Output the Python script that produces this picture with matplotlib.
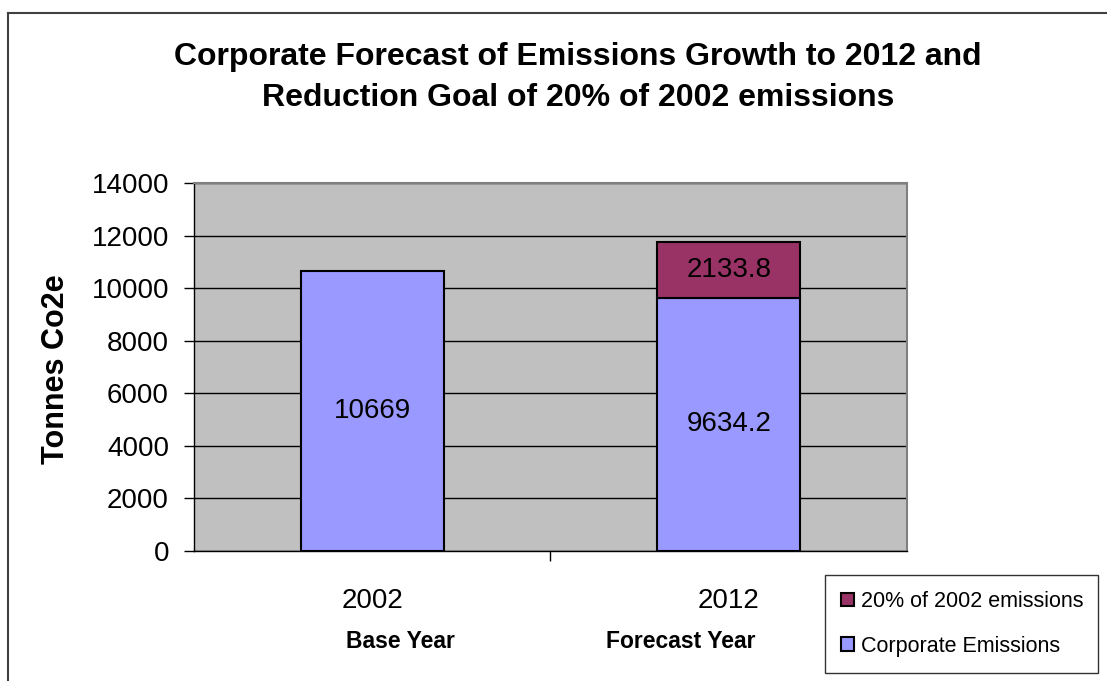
import numpy as np
import matplotlib
matplotlib.use('agg')
import matplotlib.pyplot as plt
from matplotlib.lines import Line2D

plt.rcParams['font.family'] = ['Liberation Sans', 'DejaVu Sans']

# data
years = ['2002', '2012']
year_notes = ['Base Year', 'Forecast Year']
corporate = [10669, 9634.2]
reduction = [0, 2133.8]
series_names = ['Corporate Emissions', '20% of 2002 emissions']
yticks = list(range(0, 14001, 2000))

c_corp = '#9999FF'
c_red = '#993366'

fig = plt.figure(figsize=(11.07, 6.81), dpi=100)
ax = fig.add_axes([0.1752, 0.1909, 0.6441, 0.5404])
ax.set_facecolor('#C0C0C0')

x = np.arange(len(years))
b1 = ax.bar(x, corporate, 0.4, color=c_corp, edgecolor='black', linewidth=1.5, zorder=3,
            label=series_names[0])
b2 = ax.bar(x[1:], reduction[1:], 0.4, bottom=corporate[1:], color=c_red, edgecolor='black',
            linewidth=1.5, zorder=3, label=series_names[1])

# value labels in the middle of each segment
for xi, v in zip(x, corporate):
    ax.text(xi, v / 2, '%g' % v, ha='center', va='center', fontsize=20, zorder=4)
for xi, v, base in zip(x[1:], reduction[1:], corporate[1:]):
    ax.text(xi, base + v / 2, '%g' % v, ha='center', va='center', fontsize=20, zorder=4)

ax.set_xlim(-0.5, 1.5)
ax.set_ylim(0, 14000)
ax.set_yticks(yticks)
ax.yaxis.grid(True, color='black', linewidth=1)
ax.set_axisbelow(True)
ax.tick_params(axis='y', labelsize=20, length=7, width=1, pad=11, direction='out')

ax.set_xticks(x)
ax.set_xticklabels(years)
ax.set_xticks([0.5], minor=True)
ax.tick_params(axis='x', which='major', length=0, labelsize=20, pad=27)
ax.tick_params(axis='x', which='minor', length=7.5, width=1, direction='out')

for s in ['top', 'right']:
    ax.spines[s].set_color('#808080')
    ax.spines[s].set_linewidth(1.5)
for s in ['left', 'bottom']:
    ax.spines[s].set_color('black')
    ax.spines[s].set_linewidth(1)

# bold notes under the years
note_x = [0.078, 0.866]
for nx, note in zip(note_x, year_notes):
    ax.text(nx, -(641 - 551) / 368, note, transform=ax.get_xaxis_transform(),
            ha='center', va='center', fontsize=16.5, fontweight='bold')

fig.text(0.522, 1 - 77.5 / 681,
         'Corporate Forecast of Emissions Growth to 2012 and\nReduction Goal of 20% of 2002 emissions',
         ha='center', va='center', fontsize=23, fontweight='bold', linespacing=1.45)
fig.text(56 / 1107, 1 - 369 / 681, 'Tonnes Co2e', rotation=90, ha='center', va='center',
         fontsize=22, fontweight='bold')

# legend (reverse order like the stacked chart)
leg = fig.legend([b2, b1], [series_names[1], series_names[0]],
                 loc='upper left', bbox_to_anchor=(825 / 1107, 1 - 575 / 681 - 0.01, 273 / 1107, 0.01),
                 mode='expand', fontsize=15.5, frameon=True, fancybox=False,
                 edgecolor='black', handlelength=0.6, handleheight=0.6, handletextpad=0.3,
                 labelspacing=1.1, borderpad=0.75, borderaxespad=0)
leg.get_frame().set_linewidth(1)

# outer chart border (cropped at right and bottom)
fig.add_artist(Line2D([8 / 1107, 8 / 1107], [0, 1 - 13 / 681], transform=fig.transFigure,
                      color='#404040', linewidth=1.5))
fig.add_artist(Line2D([8 / 1107, 1], [1 - 13 / 681, 1 - 13 / 681], transform=fig.transFigure,
                      color='#404040', linewidth=1.5))

fig.savefig('out.png', dpi=100)
